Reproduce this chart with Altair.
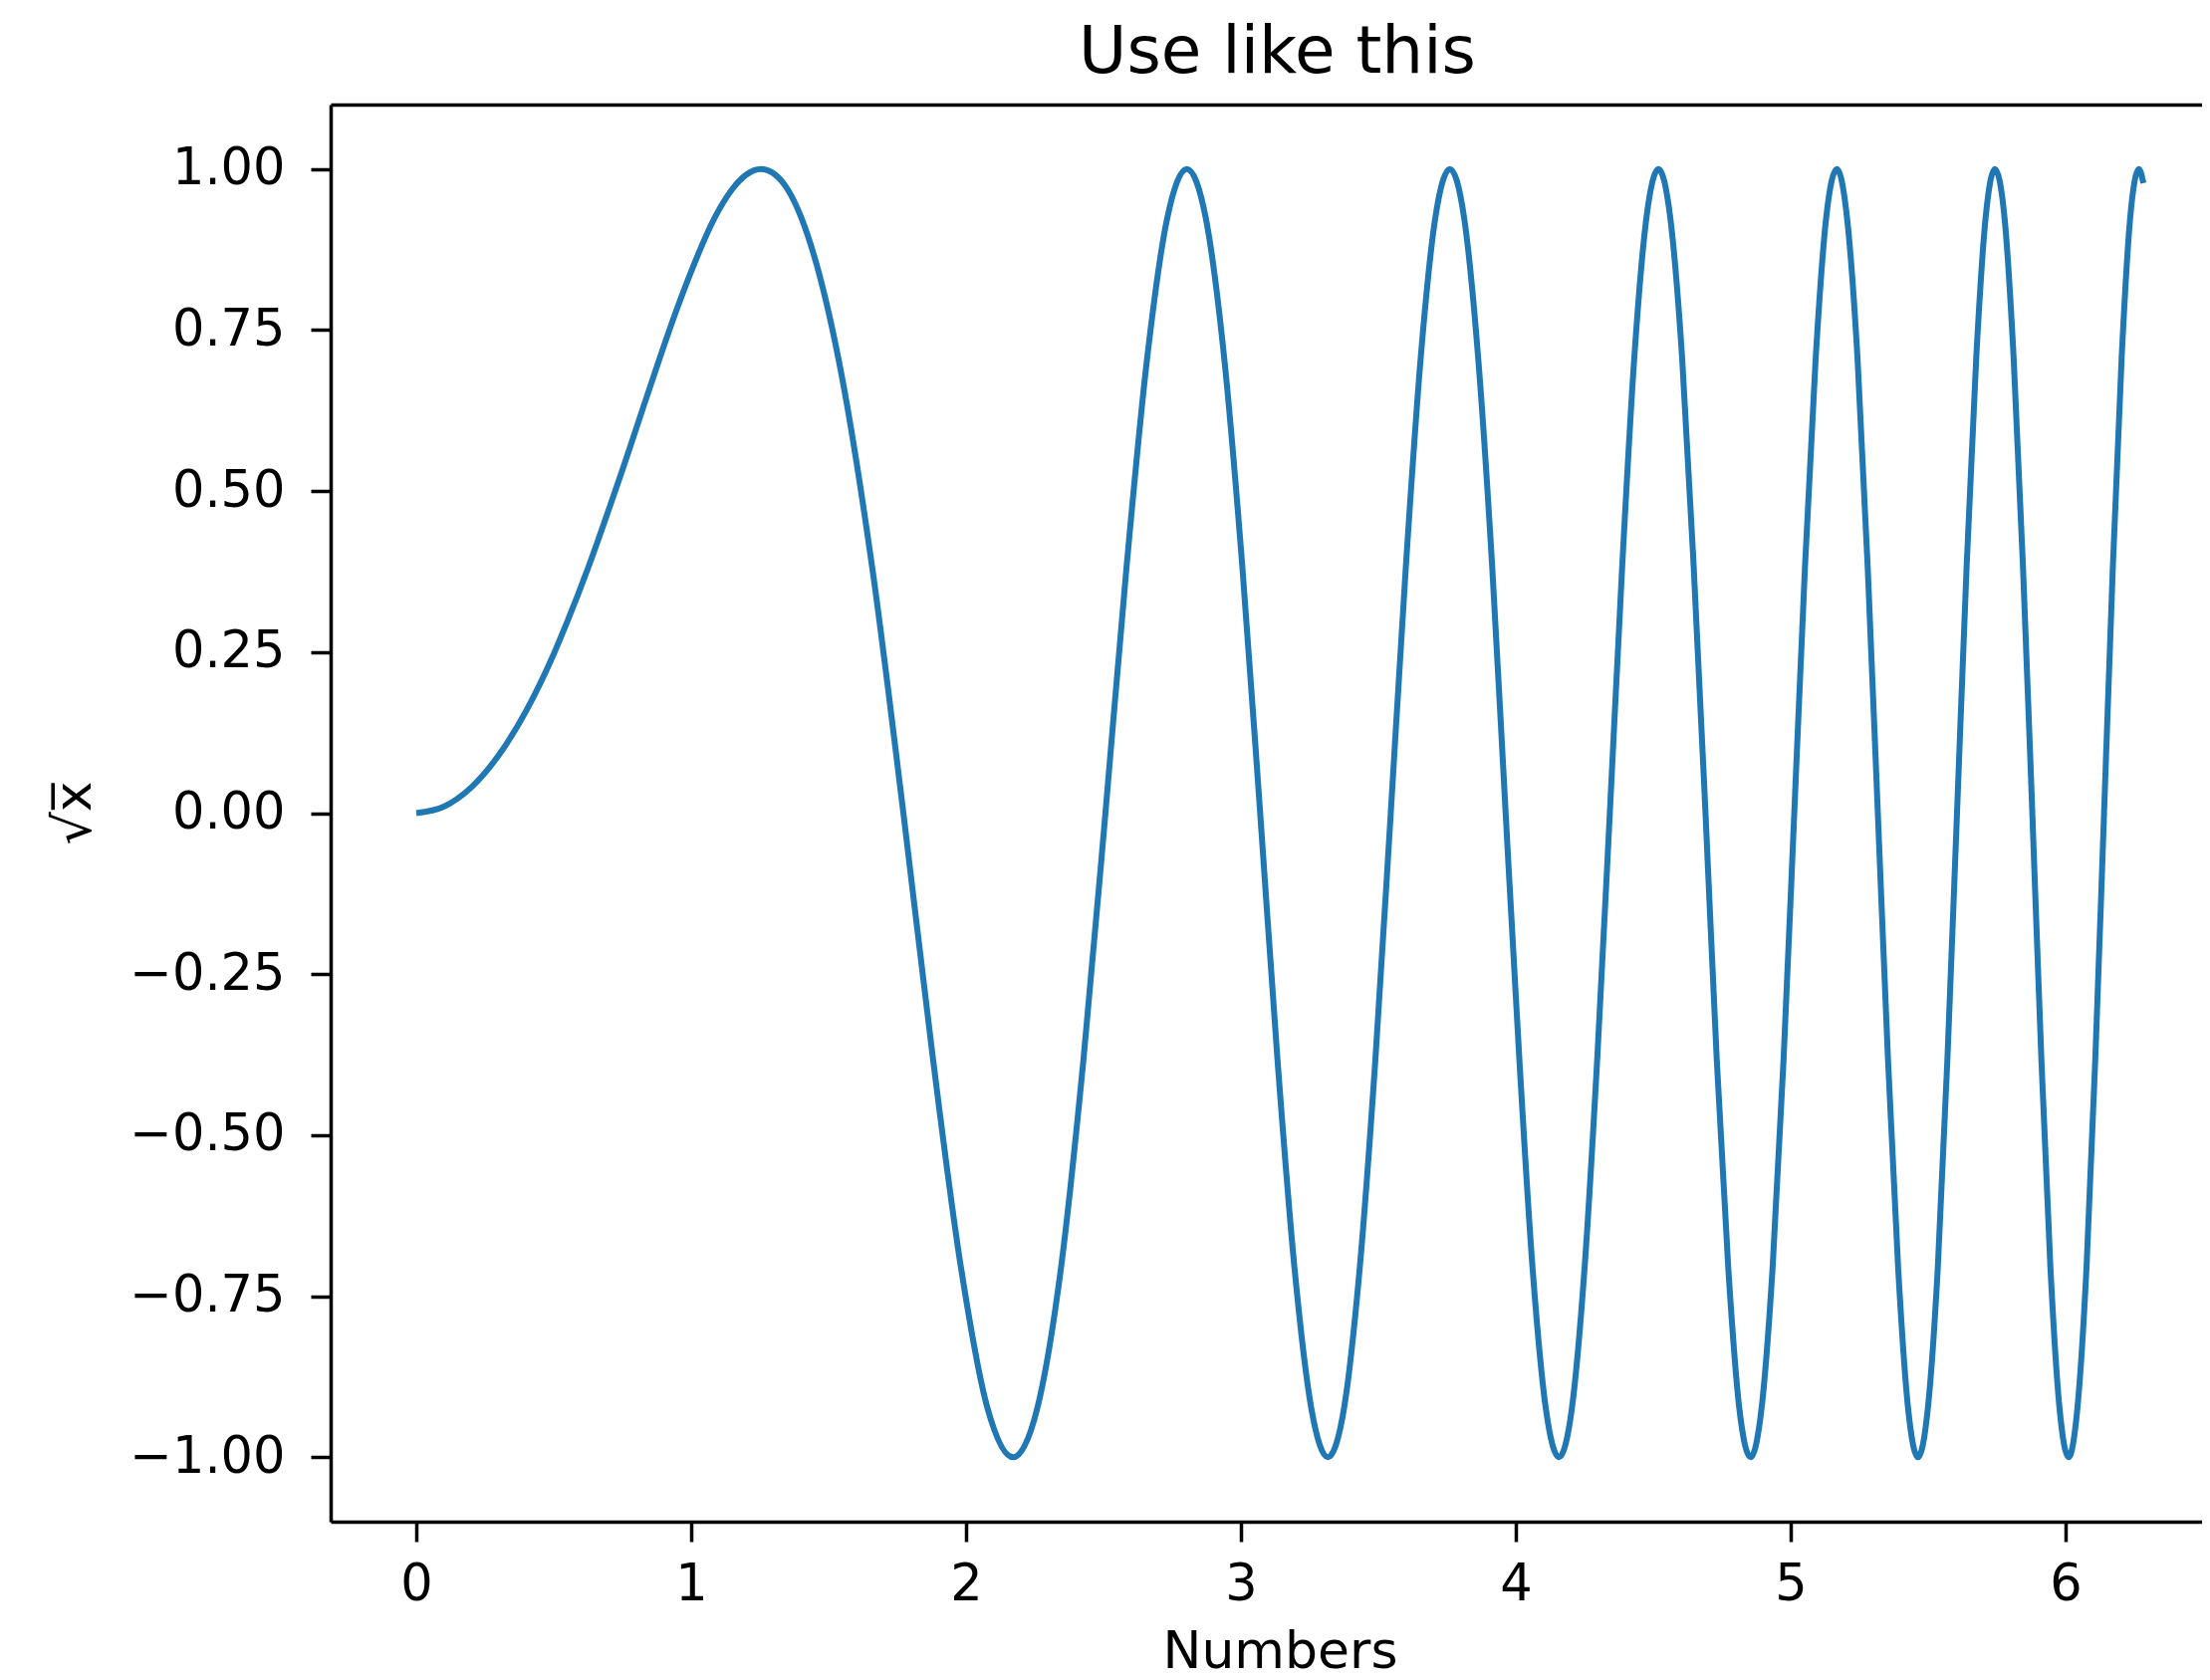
import altair as alt
import pandas as pd

# Points (x, y)
x_vals = [0, 0.1, 0.2, 0.3, 0.4, 0.5, 0.55, 0.627, 0.7, 0.75, 0.8, 0.886, 0.95, 1.0, 1.085,
          1.15, 1.2, 1.253, 1.3, 1.35,
          1.401, 1.535, 1.658, 1.772, 1.880, 1.982, 2.078, 2.171,
          2.259, 2.345, 2.427, 2.507, 2.584, 2.659, 2.732, 2.803,
          2.872, 2.939, 3.005, 3.070, 3.133, 3.195, 3.256, 3.316,
          3.375, 3.432, 3.489, 3.545, 3.600, 3.654, 3.707, 3.760,
          3.812, 3.863, 3.914, 3.963, 4.013, 4.061, 4.109, 4.157,
          4.204, 4.250, 4.296, 4.342, 4.387, 4.431, 4.475, 4.519,
          4.562, 4.605, 4.647, 4.690, 4.731, 4.773, 4.813, 4.854,
          4.894, 4.934, 4.974, 5.013, 5.052, 5.091, 5.129, 5.168,
          5.205, 5.243, 5.280, 5.317, 5.354, 5.391, 5.427, 5.463,
          5.499, 5.535, 5.570, 5.605, 5.640, 5.675, 5.709, 5.743,
          5.778, 5.811, 5.845, 5.879, 5.912, 5.945, 5.978, 6.011,
          6.043, 6.076, 6.108, 6.140, 6.172, 6.204, 6.235, 6.267,
          6.283]
y_vals = [0, 0.01, 0.04, 0.09, 0.159, 0.247, 0.298, 0.383, 0.471, 0.533, 0.597, 0.707, 0.785, 0.841, 0.924,
          0.969, 0.991, 1.0, 0.993, 0.969,
          0.924, 0.707, 0.383, 0.0, -0.383, -0.707, -0.924, -1.0,
          -0.924, -0.707, -0.383, 0.0, 0.383, 0.707, 0.924, 1.0,
          0.924, 0.707, 0.383, 0.0, -0.383, -0.707, -0.924, -1.0,
          -0.924, -0.707, -0.383, 0.0, 0.383, 0.707, 0.924, 1.0,
          0.924, 0.707, 0.383, 0.0, -0.383, -0.707, -0.924, -1.0,
          -0.924, -0.707, -0.383, 0.0, 0.383, 0.707, 0.924, 1.0,
          0.924, 0.707, 0.383, 0.0, -0.383, -0.707, -0.924, -1.0,
          -0.924, -0.707, -0.383, 0.0, 0.383, 0.707, 0.924, 1.0,
          0.924, 0.707, 0.383, 0.0, -0.383, -0.707, -0.924, -1.0,
          -0.924, -0.707, -0.383, 0.0, 0.383, 0.707, 0.924, 1.0,
          0.924, 0.707, 0.383, 0.0, -0.383, -0.707, -0.924, -1.0,
          -0.924, -0.707, -0.383, 0.0, 0.383, 0.707, 0.924, 1.0,
          0.978]

x_ticks = [0, 1, 2, 3, 4, 5, 6]
y_ticks = [-1.0, -0.75, -0.5, -0.25, 0.0, 0.25, 0.5, 0.75, 1.0]

df = pd.DataFrame({"x": x_vals, "y": y_vals})

FONT = "DejaVu Sans"
xscale = alt.Scale(domain=[-0.3116, 6.4964], nice=False, zero=False)
yscale = alt.Scale(domain=[-1.1, 1.1], nice=False, zero=False)

line = alt.Chart(df).mark_line(
    color="#1f77b4", strokeWidth=6, interpolate="monotone"
).encode(
    x=alt.X("x:Q", scale=xscale, axis=alt.Axis(
        values=x_ticks, format="d", title="Numbers",
        labelPadding=18, titleX=953, titleY=146, titleAlign="center",
        titleBaseline="alphabetic", titleFontSize=52,
    )),
    y=alt.Y("y:Q", scale=yscale, axis=alt.Axis(
        values=y_ticks, format=".2f", title="√x̅",
        labelPadding=26, titleX=-242, titleY=711, titleAlign="center",
        titleBaseline="alphabetic", titleFontSize=52,
    )),
)

# top spine, carrying the chart title
top = alt.Chart(df).mark_point(opacity=0).encode(
    x=alt.X("x:Q", scale=xscale, axis=alt.Axis(
        orient="top", labels=False, ticks=False, domain=True,
        title="Use like this", titleFontSize=66, titleX=950, titleY=-33,
        titleAlign="center", titleBaseline="alphabetic",
    )),
)

chart = alt.layer(line, top).resolve_axis(x="independent").properties(
    width=1879,
    height=1423,
    autosize=alt.AutoSizeParams(type="none"),
    padding={"left": 324, "top": 97, "right": 0, "bottom": 151},
).configure_view(stroke=None).configure_axis(
    grid=False,
    domainColor="black", domainWidth=3.5,
    tickColor="black", tickWidth=3.5, tickSize=20,
    labelColor="black", labelFont=FONT, labelFontSize=51,
    titleColor="black", titleFont=FONT, titleFontWeight="normal",
    labelFlush=False, labelOverlap=False,
)

chart.save("out.html", embed_options={"renderer": "svg", "actions": False})
